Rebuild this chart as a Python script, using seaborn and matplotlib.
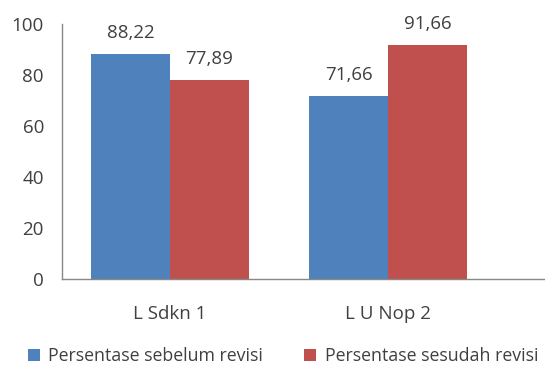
import matplotlib
matplotlib.use("Agg")
import matplotlib.pyplot as plt
import seaborn as sns
import pandas as pd

categories = ["L Sdkn 1", "L U Nop 2"]
series_names = ["Persentase sebelum revisi", "Persentase sesudah revisi"]
sebelum = [88.22, 71.66]
sesudah = [77.89, 91.66]
colors = ["#4F81BD", "#C0504D"]
y_ticks = [0, 20, 40, 60, 80, 100]

df = pd.DataFrame({
    "kategori": categories * 2,
    "seri": [series_names[0]] * 2 + [series_names[1]] * 2,
    "nilai": sebelum + sesudah,
})

sns.set_theme(style="white")
plt.rcParams["font.family"] = ["Open Sans", "DejaVu Sans"]
text_color = "#404040"
axis_color = "#888888"

fig = plt.figure(figsize=(5.45, 3.67), dpi=100)
ax = fig.add_axes([62 / 545, 88 / 367, 1 - 62 / 545, (279 - 24) / 367])

sns.barplot(data=df, x="kategori", y="nilai", hue="seri", palette=colors,
            width=0.725, saturation=1, dodge=True, linewidth=0, ax=ax,
            legend=True)

for container in ax.containers:
    labels = [f"{v:.2f}".replace(".", ",") for v in container.datavalues]
    ax.bar_label(container, labels=labels, padding=9, fontsize=13.5,
                 color=text_color)

ax.set_ylim(0, 100)
ax.set_xlim(-0.495, 1.72)
ax.set_yticks(y_ticks)
ax.set_xlabel("")
ax.set_ylabel("")
ax.tick_params(axis="y", length=0, pad=13, labelsize=13.5, labelcolor=text_color)
ax.tick_params(axis="x", length=0, pad=18.5, labelsize=13.5, labelcolor=text_color)

for side in ["top", "right"]:
    ax.spines[side].set_visible(False)
for side in ["left", "bottom"]:
    ax.spines[side].set_color(axis_color)
    ax.spines[side].set_linewidth(1.0)

handles, lbls = ax.get_legend_handles_labels()
ax.get_legend().remove()
fig.legend(handles, lbls, loc="center left", bbox_to_anchor=(28 / 545, 11 / 367),
           ncol=2, frameon=False, fontsize=12.8, handlelength=0.65,
           handleheight=0.65, handletextpad=0.5, columnspacing=2.3,
           labelcolor=text_color, borderaxespad=0, borderpad=0)

fig.savefig("out.png", dpi=100)
